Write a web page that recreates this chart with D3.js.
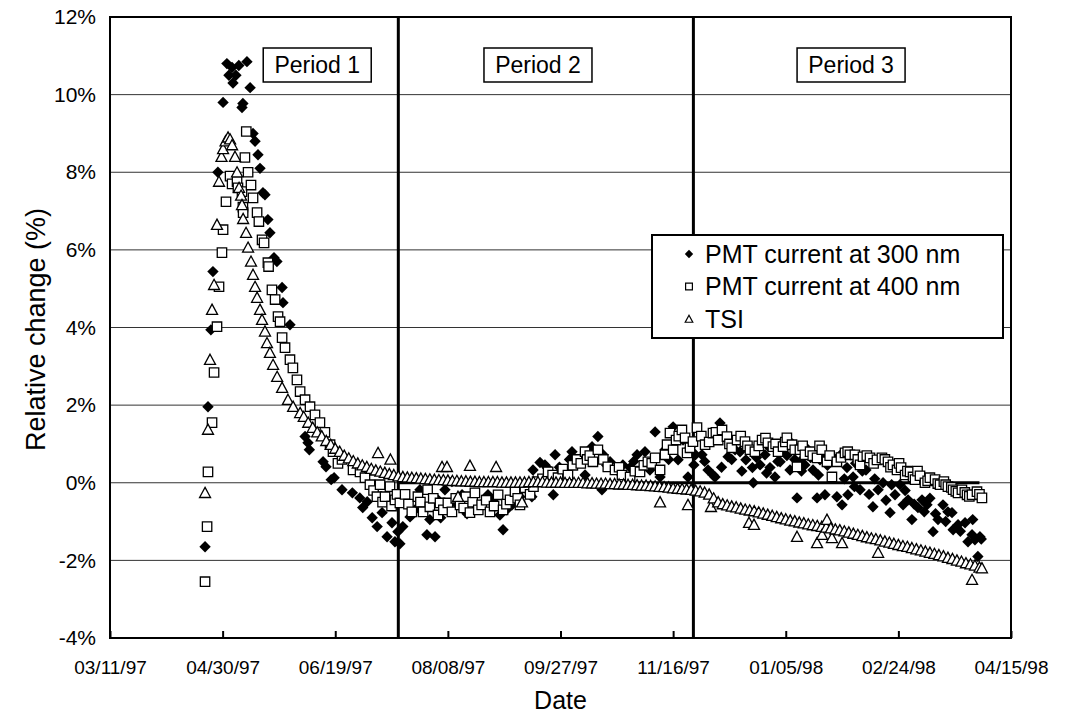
<!DOCTYPE html>
<html>
<head>
<meta charset="utf-8">
<script src="https://cdn.jsdelivr.net/npm/d3@7"></script>
<style>
body{margin:0;background:#fff;}
svg{display:block;font-family:Arial,"Liberation Sans",sans-serif;}
</style>
</head>
<body>
<svg width="1075" height="719"></svg>
<script>
// tick labels and axis ranges
const dateTicks = ["03/11/97","04/30/97","06/19/97","08/08/97","09/27/97","11/16/97","01/05/98","02/24/98","04/15/98"];
const yTicks = [-4,-2,0,2,4,6,8,10,12];
const periodBounds = ["07/17/97","11/25/97"];
const periodNames = ["Period 1","Period 2","Period 3"];
const periodCenters = ["06/11/97","09/17/97","02/03/98"];
const zeroLine = ["07/17/97","04/01/98"];
const seriesNames = ["PMT current at 300 nm","PMT current at 400 nm","TSI"];

// data: [days after 03/11/97, relative change %]
const pmt300 = [
[42.2,-1.65],[43.5,1.96],[44.8,3.94],[45.7,5.44],[47.9,8.0],[50.2,9.8],[51.9,10.8],[52.8,10.5],[54.2,10.7],[54.6,10.3],
[55.9,10.5],[57.2,10.75],[58.6,9.67],[59,9.77],[60.8,10.85],[62.2,10.18],[63.5,9.0],[64.4,8.8],[65.7,8.45],[66.6,8.1],
[67.9,7.47],[68.8,7.42],[70.1,6.78],[71,6.44],[72.8,5.8],[74.1,5.7],[76.4,5.03],[76.8,4.64],[79.9,4.07],[86.6,1.19],
[87.9,1.03],[88.5,0.85],[94.6,0.54],[95.9,0.41],[98.2,0.08],[99.5,0.13],[103,-0.18],[107.6,-0.26],[110.9,-0.39],[112.2,-0.64],
[114.2,-0.49],[116.4,-0.9],[118.6,-1.13],[120.8,-0.77],[123,-1.39],[125.2,-1.03],[126.5,-1.52],[127.8,-1.26],[128.7,-1.57],
[130,-1.13],[133.2,-0.88],[135.4,-0.7],[137.6,-0.18],[138.5,-0.6],[140.7,-1.34],[142,-0.95],[144.3,-1.39],[145.6,-0.44],[146.8,-0.9],
[148.7,-0.18],[149.2,-0.7],[151.8,0.03],[153,-0.5],[156.3,-0.31],[158.5,-0.8],[162.9,-0.62],[165,-0.55],[167.8,-0.31],[170,-0.45],
[173.1,-0.83],[174.5,-1.21],[176,-0.7],[178.5,-0.57],[180,-0.2],[182,-0.36],[184.5,-0.1],[187.3,-0.36],[187.8,0.33],
[190.9,0.52],[193.1,0.46],[194,0.39],[196.8,-0.31],[197.6,0.72],[199.5,0.4],[202,0.33],[204,0.6],[205.1,0.8],[207.3,0.52],
[210.9,0.2],[212.5,0.6],[214,0.93],[216.6,1.19],[218.4,-0.18],[218.9,0.72],[220.5,0.45],[222,0.54],[225,0.33],[227.7,0.46],
[230.9,0.39],[232.5,0.55],[234,0.72],[236,0.35],[237.5,0.8],[239.7,0.33],[242,1.31],[244.2,0.15],[246.4,0.85],[248,0.6],
[250,1.44],[252.2,0.59],[254.4,1.1],[256.6,0.15],[257.5,0.9],[259.2,0.46],[259.9,0.72],
[262.8,0.72],[264,0.55],[265.5,0.33],[267.7,0.2],[268.6,0.15],[270.8,1.54],[271.5,0.4],[274.4,0.67],[276,0.6],[277.5,0.85],
[279.7,0.8],[280.5,0.3],[282.3,0.59],[283,0.9],[285.2,0.39],[285.6,0],[287,0.65],[288.6,0.46],[290.8,0.72],[291.5,0.25],
[292,0.95],[293,0.39],[295.2,0.15],[296.5,0.55],[297.5,0.54],[299,0.85],[300.5,0.7],[301.9,0.33],[303,1.0],[304,0.6],
[305,-0.39],[306.3,0.54],[307,0.3],[308.5,0.46],[309,0.9],[311,0.65],[312.1,0.33],[313.9,-0.39],[314.5,0.2],[315.2,0.59],
[317,0.75],[317.4,-0.31],[318.5,0.45],[319.7,0.54],[321,0.65],[322.7,-0.36],[324,0.7],[325,-0.57],[326,0.1],[327.2,0.39],
[327.6,-0.31],[329.9,0.15],[330.5,-0.1],[331,0.5],[333,-0.18],[334,0.3],[335.6,0.33],[337,-0.3],[338.7,-0.62],[339.5,0.1],
[341,-0.18],[343.2,0],[344.5,-0.45],[346.3,-0.77],[347,-0.05],[348.5,-0.31],[350.7,-0.05],[352.1,-0.57],[353,-0.2],[354.3,-0.44],
[356,-0.95],[357,-0.55],[358.7,-0.64],[360.5,-0.44],[361.5,-0.75],[362.7,-0.57],[364,-0.4],[365.4,-1.26],[366.5,-0.8],[367.6,-0.95],
[369.8,-0.57],[371,-1.0],[372,-0.75],[373.8,-0.77],[374.3,-1.21],[376.5,-1.08],[377.5,-1.25],[379.6,-1.03],[380.9,-1.52],[382.7,-1.34],
[383,-0.95],[384,-1.47],[385.3,-1.9],[386.2,-1.39],[386.8,-1.45]
];
const pmt400 = [
[42.2,-2.55],[43.1,-1.13],[43.5,0.28],[45.3,1.55],[46.2,2.84],[47.5,4.02],[48.4,5.05],[49.7,5.93],[50.2,6.52],[51.5,7.24],
[53.3,7.9],[54.2,7.7],[56.4,7.76],[56.8,7.6],[58.6,7.5],[59,7.1],[59.1,6.96],[59.9,8.38],[60.5,9.05],[61.3,8.0],
[62.6,7.67],[63.5,7.34],[65.3,6.96],[66.1,6.73],[67.5,6.26],[68.4,6.18],[70.1,5.67],[70.4,5.57],[71.9,4.97],[73.3,4.72],
[74.6,4.28],[75.5,4.15],[76.4,3.74],[77.7,3.48],[79.9,3.17],[81.2,2.96],[83,2.65],[84.4,2.35],[86.6,2.14],[88.8,1.96],
[91,1.75],[93.2,1.55],[95.4,1.3],[97.7,0.98],[99,0.8],[101.2,0.5],[103,0.6],[107.9,0.33],[111,0.28],[113.2,0.13],
[115.4,-0.05],[117,-0.2],[118.5,-0.36],[119.9,-0.05],[121,-0.5],[122.1,-0.36],[124.3,-0.1],[125,-0.6],[126.5,-0.44],[127.4,-0.3],
[128.7,-0.52],[131,-0.3],[132.5,-0.55],[134,-0.75],[136.7,-0.36],[137.8,-0.5],[139,-0.75],[141,-0.18],[142,-0.62],[143.5,-0.4],
[145.6,-0.83],[146.5,-0.52],[148,-0.7],[150,-0.52],[151.8,-0.75],[153.5,-0.4],[155.4,-0.57],[157,-0.65],[158,-0.36],[159.8,-0.77],
[161,-0.5],[162,-0.26],[163.5,-0.7],[165,-0.57],[167,-0.45],[168.7,-0.75],[170.5,-0.6],[172.3,-0.31],[174.5,-0.7],[176,-0.55],
[177.6,-0.44],[179.8,-0.23],[181,-0.4],[182,-0.57],[184.2,-0.13],[186.5,-0.3],[188,-0.1],[189.6,0.03],[192,0.1],[194.5,0.28],
[196.5,0.2],[198.9,0.13],[201,0.35],[203.3,0.2],[205.5,0.45],[207.3,0.6],[209,0.5],[210.9,0.8],[211.8,0.6],[213,0.7],
[214.4,0.54],[216.6,0.85],[219,0.6],[221,0.41],[224.2,0.33],[226,0.4],[227.3,0.2],[230.9,0.15],[233,0.3],[235.3,0.28],
[237,0.45],[238.8,0.54],[240.5,0.5],[242,0.64],[244.2,0.33],[246.4,0.72],[247.3,0.98],[248.6,1.28],[250,0.85],[251.3,1.1],
[252.5,1.2],[253.9,1.36],[255.3,1.16],[256.2,0.77],[257.5,0.9],[258.8,1.06],[260.6,1.42],
[262.5,1.2],[264.2,0.98],[266,1.05],[267.7,1.28],[269,1.3],[270,1.1],[271.7,1.36],[273.9,1.19],[275,1.0],[276,0.9],
[278.4,1.1],[280,1.2],[281.9,1.06],[283,0.95],[284.1,0.85],[286.3,0.8],[288,0.95],[289.5,1.1],[291,1.15],[292.1,1.03],
[294.3,0.93],[295.5,1.0],[296.6,0.8],[298.8,0.93],[299.8,1.05],[300.5,1.16],[302.8,0.98],[304,0.85],[305,0.41],[306.3,0.85],
[307.5,0.95],[308.5,0.72],[310.8,0.8],[312,0.7],[313.9,0.64],[315,0.95],[316,0.85],[318.3,0.54],[319.5,0.7],[320.5,0.15],
[322.7,0.54],[324.5,0.65],[326.3,0.77],[327.5,0.8],[328.5,0.72],[330.7,0.72],[332,0.6],[333,0.46],[334.3,0.67],[336,0.7],
[337.4,0.64],[339,0.5],[340.5,0.59],[342.7,0.64],[344,0.6],[345.4,0.54],[346.5,0.4],[347.6,0.46],[349.4,0.33],[350.3,0.5],
[351.2,0.39],[353,0.2],[354,0.3],[355.2,0.28],[356.5,0.15],[357.4,0.08],[358.5,0.3],[359.6,0.18],[361.8,0],[363,0.05],
[364,0.13],[366.3,0.08],[367.5,-0.02],[368.5,-0.05],[370.2,0.03],[371,-0.05],[372,-0.1],[373.5,-0.12],[374.3,-0.18],[375.5,-0.22],
[376.5,-0.26],[378.2,-0.18],[379.5,-0.25],[380.5,-0.31],[381.5,-0.35],[382.7,-0.31],[384.9,-0.23],[386,-0.3],[387.1,-0.39]
];
const tsi = [
[42.2,-0.26],[43.5,1.37],[44.4,3.17],[45.3,4.46],[46.2,5.1],[47.5,6.65],[48.4,7.76],[49.5,8.4],[50.2,8.6],[51.3,8.8],
[52.4,8.9],[53.3,8.85],[54.2,8.7],[55.5,8.4],[56.4,8.0],[57.3,7.6],[58.2,7.4],[58.6,7.16],[59.1,6.8],[60.4,6.44],
[61.3,6.06],[62.6,5.7],[63.5,5.36],[64.4,5.05],[65.3,4.77],[66.6,4.46],[67.5,4.2],[68.8,3.9],[69.7,3.6],[71,3.35],
[72.4,3.04],[74.2,2.73],[76.4,2.45],[79,2.14],[81.3,1.96],[84.4,1.8],[86,1.7],[88,1.55],[90,1.42],[92,1.3],
[94,1.2],[96,1.08],[98,0.98],[100,0.88],[102,0.8],[104,0.7],[106,0.63],[108,0.56],[110,0.5],[112,0.45],
[114,0.41],[116,0.36],[118,0.32],[119,0.77],[120,0.29],[122,0.26],[124,0.23],[124.5,0.6],[126,0.2],[128,0.17],
[130,0.15],[132,0.14],[134,0.13],[136,0.12],[138,0.11],[140,0.1],[142,0.09],[144,0.08],[146,0.07],[147.4,0.41],
[148,0.07],[149.6,0.41],[150,0.06],[152,0.05],[154,0.05],[154.5,-0.36],[156,0.04],[158,0.04],[159.8,0.44],[160,0.03],
[162,0.03],[164,0.02],[166,0.02],[168,0.02],[170,0.02],[171.4,0.41],[172,0.02],[174,0.01],[176,0.01],[178,0.01],
[180,0.01],[182,0.01],[182.9,-0.5],[184,0.01],[186,0.02],[188,0.02],[190,0.02],[192,0.02],[194,0.01],[196,0.01],
[198,0.01],[200,0.01],[202,0.0],[204,0.0],[206,0.0],[208,0.0],[210,0.0],[212,-0.01],[214,-0.01],[216,-0.02],
[218,-0.02],[220,-0.02],[222,-0.03],[224,-0.03],[226,-0.04],[228,-0.04],[230,-0.05],[232,-0.05],[234,-0.06],[236,-0.07],
[238,-0.07],[240,-0.08],[242,-0.09],[244,-0.1],[244.2,-0.5],[246,-0.11],[248,-0.12],[250,-0.14],[252,-0.15],[254,-0.16],
[256,-0.17],[256.6,-0.57],[258,-0.18],[260,-0.2],[262,-0.22],[264,-0.25],[266,-0.3],[266.8,-0.62],[268,-0.4],[270,-0.5],
[272,-0.55],[274,-0.58],[276,-0.61],[278,-0.63],[280,-0.66],[282,-0.69],[283.7,-1.03],[284,-0.71],[285.9,-1.08],[286,-0.73],
[288,-0.76],[290,-0.79],[292,-0.82],[294,-0.85],[296,-0.88],[298,-0.91],[300,-0.94],[302,-0.97],[304,-0.99],[305,-1.39],
[306,-1.02],[308,-1.04],[310,-1.07],[312,-1.09],[313.9,-1.55],[314,-1.11],[316,-1.13],[316.1,-1.34],[318,-1.15],[318.3,-0.95],
[320,-1.17],[320.5,-1.42],[322,-1.2],[324,-1.22],[325,-1.55],[326,-1.25],[328,-1.28],[330,-1.31],[332,-1.34],[334,-1.37],
[336,-1.4],[338,-1.43],[340,-1.45],[341,-1.8],[342,-1.48],[344,-1.51],[346,-1.54],[348,-1.57],[350,-1.6],[352,-1.63],
[354,-1.65],[356,-1.68],[358,-1.71],[360,-1.74],[362,-1.77],[364,-1.8],[366,-1.83],[368,-1.86],[370,-1.89],[372,-1.93],
[374,-1.96],[376,-2.0],[378,-2.03],[380,-2.07],[382,-2.1],[382.7,-2.5],[384,-2.13],[386,-2.18],[387.1,-2.2]
];

const svg = d3.select('svg');
const parse = d3.utcParse('%m/%d/%y');
const fmt = d3.utcFormat('%m/%d/%y');
const start = parse(dateTicks[0]);
const dayToDate = d => new Date(start.getTime() + d * 864e5);

// plot area
const plotLeft = 110, plotRight = 1011, plotTop = 17, plotBottom = 638;
const x = d3.scaleUtc()
  .domain([parse(dateTicks[0]), parse(dateTicks[dateTicks.length - 1])])
  .range([plotLeft, plotRight]);
const y = d3.scaleLinear().domain([-4, 12]).range([plotBottom, plotTop]);

// horizontal gridlines
svg.append('g').selectAll('line')
  .data(yTicks.slice(1, -1))
  .enter().append('line')
  .attr('x1', plotLeft).attr('x2', plotRight)
  .attr('y1', d => y(d)).attr('y2', d => y(d))
  .attr('stroke', '#333').attr('stroke-width', 1);

// period boundaries
svg.append('g').selectAll('line')
  .data(periodBounds)
  .enter().append('line')
  .attr('x1', d => x(parse(d))).attr('x2', d => x(parse(d)))
  .attr('y1', plotTop).attr('y2', plotBottom)
  .attr('stroke', '#000').attr('stroke-width', 3);

// zero reference line
svg.append('line')
  .attr('x1', x(parse(zeroLine[0]))).attr('x2', x(parse(zeroLine[1])))
  .attr('y1', y(0)).attr('y2', y(0))
  .attr('stroke', '#000').attr('stroke-width', 3);

// marker shapes
const diamond = (s) => `M0,${-s}L${s},0L0,${s}L${-s},0Z`;
const square = (s) => `M${-s},${-s}H${s}V${s}H${-s}Z`;
const triangle = (s) => `M0,${-s}L${s},${s * 0.85}H${-s}Z`;

const plot = svg.append('g');
plot.selectAll('.p300')
  .data(pmt300).enter().append('path')
  .attr('class', 'p300')
  .attr('d', diamond(5.7))
  .attr('transform', d => `translate(${x(dayToDate(d[0]))},${y(d[1])})`)
  .attr('fill', '#000');
plot.selectAll('.p400')
  .data(pmt400).enter().append('path')
  .attr('class', 'p400')
  .attr('d', square(4.7))
  .attr('transform', d => `translate(${x(dayToDate(d[0]))},${y(d[1])})`)
  .attr('fill', '#fff').attr('stroke', '#000').attr('stroke-width', 1.3);
plot.selectAll('.tsi')
  .data(tsi).enter().append('path')
  .attr('class', 'tsi')
  .attr('d', triangle(5.5))
  .attr('transform', d => `translate(${x(dayToDate(d[0]))},${y(d[1])})`)
  .attr('fill', '#fff').attr('stroke', '#000').attr('stroke-width', 1.3);

// frame
svg.append('rect')
  .attr('x', plotLeft).attr('y', plotTop)
  .attr('width', plotRight - plotLeft).attr('height', plotBottom - plotTop)
  .attr('fill', 'none').attr('stroke', '#000').attr('stroke-width', 2);

// x axis with inward ticks
const xAxis = d3.axisBottom(x)
  .tickValues(dateTicks.map(parse))
  .tickFormat(fmt)
  .tickSizeInner(-7).tickSizeOuter(0).tickPadding(23);
const gx = svg.append('g').attr('transform', `translate(0,${plotBottom})`).call(xAxis);
gx.select('.domain').remove();
gx.selectAll('line').attr('stroke', '#000').attr('stroke-width', 2);
gx.selectAll('text').style('font-size', '19px').attr('fill', '#000');

// y axis labels
const yAxis = d3.axisLeft(y)
  .tickValues(yTicks)
  .tickFormat(d => d + '%')
  .tickSize(0).tickPadding(14);
const gy = svg.append('g').attr('transform', `translate(${plotLeft},0)`).call(yAxis);
gy.select('.domain').remove();
gy.selectAll('text').style('font-size', '21px').attr('fill', '#000');

// axis titles
svg.append('text')
  .attr('transform', `translate(36,${(plotTop + plotBottom) / 2 + 2}) rotate(-90)`)
  .attr('text-anchor', 'middle').attr('dy', '0.35em')
  .style('font-size', '27px')
  .text('Relative change (%)');
svg.append('text')
  .attr('x', (plotLeft + plotRight) / 2).attr('y', 700)
  .attr('text-anchor', 'middle').attr('dy', '0.35em')
  .style('font-size', '25px')
  .text('Date');

// period labels
const pl = svg.append('g').selectAll('g')
  .data(periodNames).enter().append('g')
  .attr('transform', (d, i) => `translate(${x(parse(periodCenters[i]))},65)`);
pl.append('rect')
  .attr('x', -54).attr('y', -17).attr('width', 108).attr('height', 34)
  .attr('fill', '#fff').attr('stroke', '#000').attr('stroke-width', 1.5);
pl.append('text')
  .attr('text-anchor', 'middle').attr('dy', '0.35em')
  .style('font-size', '23px')
  .text(d => d);

// legend
const legend = svg.append('g').attr('transform', 'translate(652,235)');
legend.append('rect')
  .attr('width', 351).attr('height', 103)
  .attr('fill', '#fff').attr('stroke', '#000').attr('stroke-width', 2);
const shapes = [diamond(4.2), square(3.4), triangle(3.8)];
const rows = legend.selectAll('.row')
  .data(seriesNames).enter().append('g')
  .attr('class', 'row')
  .attr('transform', (d, i) => `translate(37,${19 + i * 32.5})`);
rows.append('path')
  .attr('d', (d, i) => shapes[i])
  .attr('fill', (d, i) => i == 0 ? '#000' : '#fff')
  .attr('stroke', '#000').attr('stroke-width', (d, i) => i == 0 ? 0 : 1.2);
rows.append('text')
  .attr('x', 16).attr('dy', '0.35em')
  .style('font-size', '25px')
  .text(d => d);
</script>
</body>
</html>
